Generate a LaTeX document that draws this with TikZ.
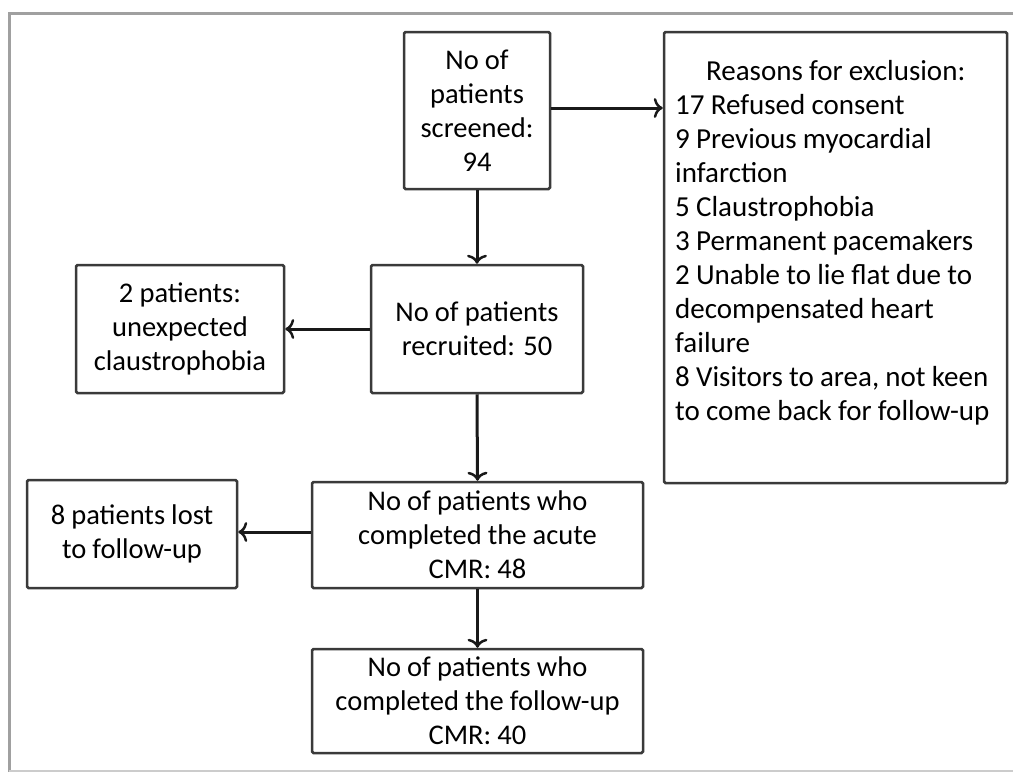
\documentclass[tikz,border=0pt]{standalone}
\usepackage{fontspec}
\setmainfont{Carlito}[WordSpace=0.95]
\usetikzlibrary{arrows.meta}
\definecolor{boxline}{HTML}{3A3A3A}
\definecolor{framegray}{HTML}{A0A0A0}
\definecolor{framelight}{HTML}{CCCCCC}
\tikzset{
  box/.style={draw=boxline, line width=2.5pt, rounded corners=1.5pt, fill=white,
    align=center, inner sep=4pt, font=\fontsize{28.5}{34}\selectfont},
  conn/.style={line width=3pt, draw=black!90, -{To[length=9pt,width=20pt,line width=2.5pt]}},
  txt/.style={align=left, inner sep=0pt, font=\fontsize{29}{34}\selectfont}
}
\begin{document}
\begin{tikzpicture}[x=1pt,y=-1pt]
\useasboundingbox (0,0) rectangle (1013,772);
% outer frame
\draw[framegray, line width=3pt] (9,772) -- (9,13) -- (1013,13);
\draw[framelight, line width=2pt] (9,771) -- (1013,771);
% boxes
\node[box, minimum width=146pt, minimum height=157pt] (scr) at (477,110.5) {No of\\patients\\screened:\\94};
\node[box, minimum width=343pt, minimum height=451pt] (excl) at (835.5,257.5) {};
\node[txt, anchor=north west] (excltxt) at (675,60)
  {\hbox to 321pt{\hss Reasons for exclusion:\hss}\\
   17 Refused consent\\
   9 Previous myocardial\\
   infarction\\
   5 Claustrophobia\\
   3 Permanent pacemakers\\
   2 Unable to lie flat due to\\
   decompensated heart\\
   failure\\
   8 Visitors to area, not keen\\
   to come back for follow-up};
\node[box, minimum width=212pt, minimum height=128pt] (rec) at (477,329) {No of patients\\recruited: 50};
\node[box, minimum width=208pt, minimum height=128pt] (cla) at (180,329) {2 patients:\\unexpected\\claustrophobia};
\node[box, minimum width=331pt, minimum height=106pt] (acu) at (477.5,535) {No of patients who\\completed the acute\\CMR: 48};
\node[box, minimum width=210pt, minimum height=108pt] (lost) at (132,534) {8 patients lost\\to follow-up};
\node[box, minimum width=331pt, minimum height=104pt] (fol) at (477.5,701) {No of patients who\\completed the follow-up\\CMR: 40};
% connectors
\draw[conn] ([yshift=2.5pt]scr.east) -- ([yshift=2.5pt]scr.east -| excl.west);
\draw[conn] (scr.south) -- (rec.north);
\draw[conn] (rec.west) -- (rec.west -| cla.east);
\draw[conn] (rec.south) -- (acu.north);
\draw[conn] ([yshift=3pt]acu.west) -- ([yshift=3pt]acu.west -| lost.east);
\draw[conn] (acu.south) -- (fol.north);
\end{tikzpicture}
\end{document}
